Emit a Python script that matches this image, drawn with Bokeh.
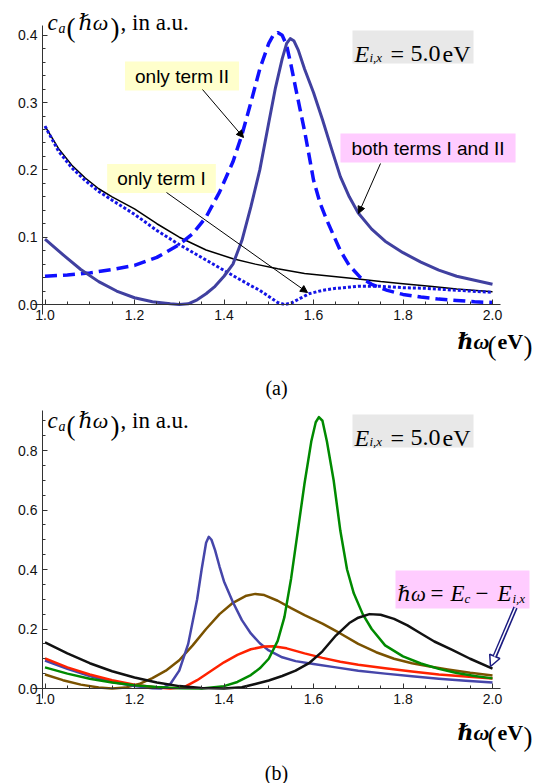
from bokeh.plotting import figure
from bokeh.layouts import column
from bokeh.models import Label, Arrow, NormalHead, Range1d, FixedTicker, BoxAnnotation
from bokeh.embed import file_html
from bokeh.resources import INLINE

# ---------------- data ----------------
x_ticks = [1.0, 1.2, 1.4, 1.6, 1.8, 2.0]
x_tick_labels = ["1.0", "1.2", "1.4", "1.6", "1.8", "2.0"]
ya_ticks = [0.0, 0.1, 0.2, 0.3, 0.4]
ya_tick_labels = ["0.0", "0.1", "0.2", "0.3", "0.4"]
yb_ticks = [0.0, 0.2, 0.4, 0.6, 0.8]
yb_tick_labels = ["0.0", "0.2", "0.4", "0.6", "0.8"]

# panel (a)
both_x = [1.00, 1.04, 1.08, 1.12, 1.16, 1.20, 1.24, 1.28, 1.30, 1.32, 1.34, 1.36, 1.38, 1.40, 1.42, 1.44,
          1.46, 1.48, 1.50, 1.515, 1.53, 1.54, 1.548, 1.556, 1.566, 1.58, 1.60, 1.62, 1.64, 1.66, 1.68,
          1.70, 1.73, 1.76, 1.80, 1.84, 1.88, 1.92, 1.96, 2.00]
both_y = [0.097, 0.074, 0.052, 0.034, 0.020, 0.010, 0.004, 0.001, 0.000, 0.001, 0.007, 0.016, 0.027, 0.042,
          0.060, 0.095, 0.145, 0.200, 0.270, 0.322, 0.365, 0.388, 0.395, 0.392, 0.378, 0.350, 0.315, 0.275,
          0.232, 0.190, 0.160, 0.136, 0.112, 0.094, 0.077, 0.063, 0.051, 0.042, 0.036, 0.030]

term2_x = [1.00, 1.05, 1.10, 1.15, 1.20, 1.25, 1.30, 1.33, 1.36, 1.39, 1.42, 1.44, 1.46, 1.48, 1.50, 1.51,
           1.52, 1.53, 1.54, 1.55, 1.56, 1.57, 1.58, 1.59, 1.60, 1.615, 1.63, 1.66, 1.68, 1.705, 1.73, 1.765,
           1.80, 1.84, 1.88, 1.92, 1.96, 2.00]
term2_y = [0.042, 0.044, 0.047, 0.052, 0.058, 0.070, 0.089, 0.105, 0.130, 0.167, 0.212, 0.252, 0.300, 0.350,
           0.388, 0.400, 0.404, 0.400, 0.385, 0.355, 0.322, 0.290, 0.258, 0.222, 0.185, 0.150, 0.125, 0.080,
           0.058, 0.040, 0.030, 0.021, 0.015, 0.011, 0.008, 0.006, 0.004, 0.003]

term1_x = [1.00, 1.03, 1.06, 1.09, 1.12, 1.15, 1.20, 1.25, 1.30, 1.36, 1.42, 1.46, 1.48, 1.50, 1.52, 1.535,
           1.55, 1.57, 1.59, 1.62, 1.65, 1.70, 1.75, 1.80, 1.85, 1.90, 1.95, 2.00]
term1_y = [0.265, 0.228, 0.203, 0.184, 0.168, 0.155, 0.134, 0.110, 0.089, 0.066, 0.043, 0.028, 0.021, 0.012,
           0.003, 0.000, 0.002, 0.009, 0.016, 0.021, 0.024, 0.027, 0.027, 0.025, 0.024, 0.022, 0.020, 0.018]

ref_x = [1.00, 1.03, 1.06, 1.09, 1.12, 1.15, 1.20, 1.25, 1.30, 1.36, 1.42, 1.47, 1.52, 1.58, 1.64, 1.70,
         1.75, 1.80, 1.86, 1.92, 2.00]
ref_y = [0.265, 0.232, 0.207, 0.188, 0.172, 0.160, 0.142, 0.120, 0.100, 0.081, 0.068, 0.060, 0.053, 0.046,
         0.042, 0.038, 0.034, 0.031, 0.027, 0.023, 0.019]

# panel (b)
blue_x = [1.00, 1.05, 1.10, 1.15, 1.20, 1.24, 1.26, 1.28, 1.30, 1.32, 1.34, 1.35, 1.36, 1.366, 1.372, 1.38,
          1.39, 1.40, 1.42, 1.44, 1.46, 1.48, 1.50, 1.53, 1.56, 1.60, 1.65, 1.70, 1.76, 1.82, 1.88, 1.94, 2.00]
blue_y = [0.094, 0.066, 0.042, 0.022, 0.008, 0.001, 0.000, 0.015, 0.060, 0.150, 0.300, 0.400, 0.490, 0.510,
          0.500, 0.465, 0.410, 0.360, 0.290, 0.230, 0.185, 0.152, 0.128, 0.105, 0.092, 0.082, 0.071, 0.060,
          0.050, 0.041, 0.033, 0.026, 0.020]

brown_x = [1.00, 1.04, 1.08, 1.12, 1.15, 1.18, 1.21, 1.24, 1.27, 1.30, 1.33, 1.36, 1.39, 1.42, 1.45, 1.47,
           1.49, 1.52, 1.55, 1.58, 1.62, 1.66, 1.70, 1.74, 1.78, 1.82, 1.86, 1.90, 1.95, 2.00]
brown_y = [0.047, 0.028, 0.013, 0.003, 0.000, 0.003, 0.015, 0.035, 0.060, 0.095, 0.145, 0.200, 0.250, 0.288,
           0.312, 0.318, 0.314, 0.295, 0.270, 0.247, 0.218, 0.185, 0.150, 0.122, 0.100, 0.085, 0.074, 0.064,
           0.053, 0.044]

red_x = [1.00, 1.05, 1.10, 1.15, 1.20, 1.25, 1.28, 1.31, 1.34, 1.37, 1.40, 1.43, 1.46, 1.49, 1.51, 1.54,
         1.58, 1.62, 1.66, 1.70, 1.76, 1.82, 1.88, 1.94, 2.00]
red_y = [0.101, 0.071, 0.047, 0.028, 0.013, 0.003, 0.000, 0.004, 0.028, 0.058, 0.088, 0.113, 0.132, 0.141,
         0.142, 0.135, 0.118, 0.103, 0.090, 0.080, 0.068, 0.057, 0.047, 0.040, 0.034]

green_x = [1.00, 1.05, 1.10, 1.15, 1.20, 1.25, 1.30, 1.35, 1.40, 1.43, 1.46, 1.48, 1.50, 1.52, 1.535, 1.55,
           1.565, 1.58, 1.595, 1.605, 1.612, 1.62, 1.63, 1.645, 1.66, 1.675, 1.69, 1.71, 1.73, 1.76, 1.80,
           1.84, 1.88, 1.92, 1.96, 2.00]
green_y = [0.071, 0.050, 0.033, 0.020, 0.011, 0.005, 0.001, 0.000, 0.008, 0.022, 0.045, 0.068, 0.100, 0.160,
           0.240, 0.370, 0.530, 0.690, 0.830, 0.895, 0.912, 0.900, 0.830, 0.700, 0.530, 0.400, 0.320, 0.250,
           0.200, 0.145, 0.108, 0.084, 0.066, 0.052, 0.042, 0.034]

black_x = [1.00, 1.05, 1.10, 1.15, 1.20, 1.25, 1.30, 1.35, 1.40, 1.44, 1.47, 1.50, 1.53, 1.56, 1.59, 1.62,
           1.65, 1.68, 1.70, 1.725, 1.75, 1.78, 1.81, 1.84, 1.87, 1.91, 1.95, 2.00]
black_y = [0.155, 0.118, 0.085, 0.058, 0.037, 0.020, 0.008, 0.002, 0.000, 0.004, 0.015, 0.027, 0.042, 0.060,
           0.085, 0.125, 0.178, 0.220, 0.238, 0.250, 0.248, 0.234, 0.212, 0.185, 0.158, 0.130, 0.100, 0.067]

# ---------------- layout constants (page pixels) ----------------
SERIF = "Liberation Serif, DejaVu Serif, serif"
SANS = "Liberation Sans, Arial, sans-serif"
W = 549
KX, X1PX = 447.5, 44.5          # px per unit, px of x = 1.0
A = dict(off=0, H=400, KY=673.0, Y0=304.0, T=25, B=314)
Bp = dict(off=400, H=383, KY=297.5, Y0=688.0, T=410, B=698)


def dx(X):
    return 1.0 + (X - X1PX) / KX


def dy(Y, P):
    return (P["Y0"] - Y) / P["KY"]


def make_fig(P, yt, ytl, yminor):
    p = figure(width=W, height=P["H"],
               x_range=Range1d(dx(0), dx(W)),
               y_range=Range1d(dy(P["off"] + P["H"], P), dy(P["off"], P)),
               output_backend="svg", toolbar_location=None,
               min_border_left=0, min_border_right=0, min_border_top=0, min_border_bottom=0)
    p.xgrid.visible = False
    p.ygrid.visible = False
    p.outline_line_color = None
    p.background_fill_color = "white"
    p.border_fill_color = "white"
    xminor = [round(1.0 + 0.05 * i, 3) for i in range(21)]
    p.xaxis.ticker = FixedTicker(ticks=x_ticks, minor_ticks=xminor)
    p.xaxis.major_label_overrides = {t: l for t, l in zip(x_ticks, x_tick_labels)}
    p.yaxis.ticker = FixedTicker(ticks=yt, minor_ticks=yminor)
    p.yaxis.major_label_overrides = {t: l for t, l in zip(yt, ytl)}
    p.xaxis.fixed_location = 0
    p.yaxis.fixed_location = dx(42)
    p.xaxis.bounds = (dx(32), dx(500))
    p.yaxis.bounds = (dy(P["B"], P), dy(P["T"], P))
    for ax in (p.xaxis, p.yaxis):
        ax.axis_line_color = "#333333"
        ax.axis_line_width = 1
        ax.major_tick_line_color = "#333333"
        ax.minor_tick_line_color = "#333333"
        ax.major_tick_in = 5
        ax.major_tick_out = 0
        ax.minor_tick_in = 3
        ax.minor_tick_out = 0
        ax.major_label_text_font = SANS
        ax.major_label_text_font_size = "14px"
        ax.major_label_text_color = "#111111"
        ax.major_label_standoff = 5
    return p


def lab(p, P, X, Y, text, size, style="normal", font=SERIF, align="left", baseline="alphabetic", **kw):
    p.add_layout(Label(x=dx(X), y=dy(Y, P), text=text, text_font=font, text_font_size=f"{size}px",
                       text_font_style=style, text_align=align, text_baseline=baseline,
                       text_color="black", **kw))


def box_label(p, P, cx, cy, text, color, padx, pady):
    p.add_layout(Label(x=dx(cx), y=dy(cy, P), text=text, text_font=SANS, text_font_size="19px",
                       text_align="center", text_baseline="middle", text_color="black",
                       background_fill_color=color, background_fill_alpha=1.0, padding=(padx, pady)))


def arrow(p, P, X0, Y0, X1, Y1):
    p.add_layout(Arrow(x_start=dx(X0), y_start=dy(Y0, P), x_end=dx(X1), y_end=dy(Y1, P),
                       line_color="black", line_width=1,
                       end=NormalHead(size=7, fill_color="black", line_color="black")))


def ylabel(p, P, o):
    lab(p, P, 47, 22 + o, "c", 23, "italic")
    lab(p, P, 58, 28 + o, "a", 14, "italic")
    lab(p, P, 66, 27 + o, "(", 27)
    lab(p, P, 78, 22 + o, "ℏω", 22, "italic")
    lab(p, P, 110, 27 + o, ")", 27)
    lab(p, P, 120, 22 + o, ", in a.u.", 23)


def xlabel(p, P, o):
    lab(p, P, 457, 341 + o, "ℏω", 22, "bold italic")
    lab(p, P, 487, 345 + o, "(", 27)
    lab(p, P, 497, 341 + o, "eV", 22, "bold")
    lab(p, P, 523, 345 + o, ")", 27)


def ebox(p, P, o):
    p.add_layout(BoxAnnotation(left=dx(352), right=dx(473), top=dy(30 + o, P), bottom=dy(63 + o, P),
                               fill_color="#e8e8e8", fill_alpha=1.0, line_color=None))
    lab(p, P, 354, 53 + o, "E", 24, "italic")
    lab(p, P, 369, 57 + o, "i,x", 13, "italic")
    lab(p, P, 390, 53 + o, "=", 24)
    lab(p, P, 410, 53 + o, "5.0", 24)
    lab(p, P, 442, 53 + o, "eV", 24)


# ---------------- panel (a) ----------------
ya_minor = [round(0.02 * i, 3) for i in range(21)]
p1 = make_fig(A, ya_ticks, ya_tick_labels, ya_minor)
p1.line(ref_x, ref_y, line_color="black", line_width=1.5)
p1.line(term1_x, term1_y, line_color="#1414e6", line_width=3, line_dash="3 2")
p1.line(term2_x, term2_y, line_color="#1010ff", line_width=3.5, line_dash="12 6")
p1.line(both_x, both_y, line_color="#4040a0", line_width=3, line_join="round")

ylabel(p1, A, 0)
xlabel(p1, A, 0)
ebox(p1, A, 0)
box_label(p1, A, 181.5, 75.5, "only term II", "#ffffcc", 10, 4)
box_label(p1, A, 161, 178, "only term I", "#ffffcc", 10, 4)
box_label(p1, A, 427.5, 147.5, "both terms I and II", "#ffccff", 11, 4)
arrow(p1, A, 202, 89, 243, 137)
arrow(p1, A, 380, 163, 358, 213)
arrow(p1, A, 166, 192, 307, 292)
lab(p1, A, 276, 387, "(a)", 20, align="center")

# ---------------- panel (b) ----------------
yb_minor = [round(0.05 * i, 3) for i in range(19)]
p2 = make_fig(Bp, yb_ticks, yb_tick_labels, yb_minor)
p2.line(brown_x, brown_y, line_color="#7a5200", line_width=2.5, line_join="round")
p2.line(blue_x, blue_y, line_color="#4646aa", line_width=2.5, line_join="round")
p2.line(red_x, red_y, line_color="#ff2200", line_width=2.5, line_join="round")
p2.line(green_x, green_y, line_color="#008a00", line_width=2.5, line_join="round")
p2.line(black_x, black_y, line_color="#111111", line_width=2.5, line_join="round")

ylabel(p2, Bp, 398)
xlabel(p2, Bp, 391)
ebox(p2, Bp, 384)

p2.add_layout(BoxAnnotation(left=dx(395), right=dx(529), top=dy(570, Bp), bottom=dy(608, Bp),
                            fill_color="#ffccff", fill_alpha=1.0, line_color=None))
lab(p2, Bp, 397, 593, "ℏω", 21, "italic")
lab(p2, Bp, 430, 593, "=", 23)
lab(p2, Bp, 450, 593, "E", 23, "italic")
lab(p2, Bp, 464, 598, "c", 13, "italic")
lab(p2, Bp, 475, 593, "−", 23)
lab(p2, Bp, 497, 593, "E", 23, "italic")
lab(p2, Bp, 512, 598, "i,x", 13, "italic")

p2.add_layout(Arrow(x_start=dx(515), y_start=dy(607, Bp), x_end=dx(490), y_end=dy(666, Bp),
                    line_color="#1a1a80", line_width=4.5,
                    end=NormalHead(size=11, fill_color="white", line_color="#1a1a80", line_width=1.5)))
p2.add_layout(Arrow(x_start=dx(515), y_start=dy(607, Bp), x_end=dx(494), y_end=dy(656, Bp),
                    line_color="white", line_width=1.5, end=None))
lab(p2, Bp, 276, 772, "(b)", 20, align="center")

layout = column(p1, p2)
open("out.html", "w").write(file_html(layout, INLINE))
